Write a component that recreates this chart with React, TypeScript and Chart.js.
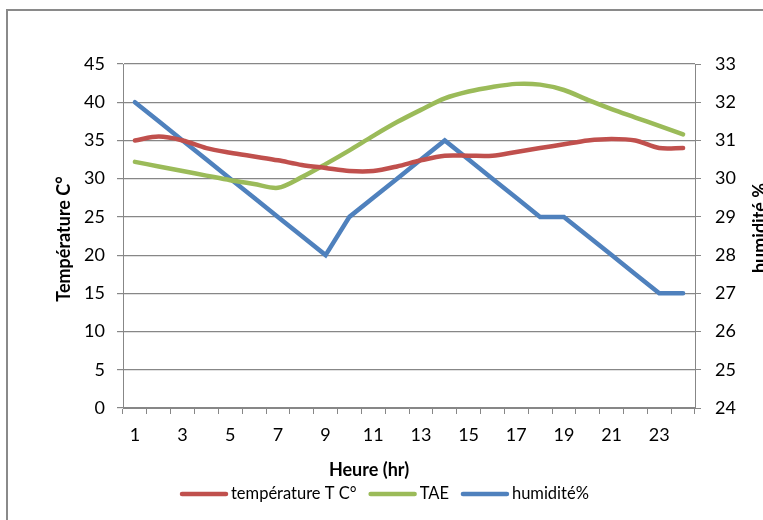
import React, { useEffect, useRef } from "react";
import { Chart, registerables } from "chart.js";

Chart.register(...registerables);

const hours = ["1","2","3","4","5","6","7","8","9","10","11","12","13","14","15","16","17","18","19","20","21","22","23","24"];
const temperature = [35, 35.5, 35, 34, 33.4, 32.9, 32.4, 31.8, 31.4, 31, 31, 31.6, 32.4, 33, 33, 33, 33.5, 34, 34.5, 35, 35.2, 35, 34, 34];
const tae = [32.2, 31.6, 31, 30.4, 29.8, 29.3, 28.8, 30.2, 31.9, 33.7, 35.6, 37.4, 39, 40.5, 41.4, 42, 42.4, 42.3, 41.6, 40.3, 39.1, 38, 36.9, 35.8];
const humidity = [32, 31.5, 31, 30.5, 30, 29.5, 29, 28.5, 28, 29, 29.5, 30, 30.5, 31, 30.5, 30, 29.5, 29, 29, 28.5, 28, 27.5, 27, 27];

const seriesNames = ["température T C°", "TAE", "humidité%"];
const colors = ["#C0504D", "#9BBB59", "#4F81BD"];
const leftTitle = "Température C°";
const rightTitle = "humidité %";
const xTitle = "Heure (hr)";

const FONT = "Lato, 'Noto Sans', sans-serif";
const GRID = "#878787";

const titlesPlugin = {
  id: "titlesLegend",
  afterDraw(chart: any) {
    const ctx = chart.ctx;
    ctx.save();
    ctx.fillStyle = "#000";
    ctx.font = `bold 18px ${FONT}`;
    ctx.textAlign = "center";
    ctx.textBaseline = "middle";
    // left title
    ctx.save();
    ctx.translate(64, 239);
    ctx.rotate(-Math.PI / 2);
    ctx.fillText(leftTitle, 0, 0);
    ctx.restore();
    // right title
    ctx.save();
    ctx.translate(760, 228);
    ctx.rotate(-Math.PI / 2);
    ctx.fillText(rightTitle, 0, 0);
    ctx.restore();
    // x title
    ctx.fillText(xTitle, 369, 470);
    // legend
    ctx.font = `16.5px ${FONT}`;
    ctx.textAlign = "left";
    let x = 180;
    const y = 494;
    chart.data.datasets.forEach((ds: any) => {
      ctx.strokeStyle = ds.borderColor;
      ctx.lineWidth = 4.5;
      ctx.lineCap = "round";
      ctx.beginPath();
      ctx.moveTo(x + 2, y);
      ctx.lineTo(x + 46, y);
      ctx.stroke();
      x += 51;
      ctx.fillText(ds.label, x, y);
      x += ctx.measureText(ds.label).width + 12;
    });
    ctx.restore();
  },
};

export default function App() {
  const ref = useRef<HTMLCanvasElement | null>(null);
  useEffect(() => {
    if (!ref.current) return;
    const tickFont = { family: FONT, size: 18 };
    const chart = new Chart(ref.current, {
      type: "line",
      data: {
        labels: hours,
        datasets: [
          { label: seriesNames[0], data: temperature, borderColor: colors[0], backgroundColor: colors[0], borderWidth: 4.5, pointRadius: 0, tension: 0.3, yAxisID: "y", borderCapStyle: "round" },
          { label: seriesNames[1], data: tae, borderColor: colors[1], backgroundColor: colors[1], borderWidth: 4.5, pointRadius: 0, tension: 0.3, yAxisID: "y", borderCapStyle: "round" },
          { label: seriesNames[2], data: humidity, borderColor: colors[2], backgroundColor: colors[2], borderWidth: 4.5, pointRadius: 0, tension: 0, yAxisID: "y1", borderCapStyle: "round" },
        ],
      },
      options: {
        responsive: false,
        animation: false,
        layout: { padding: { top: 64, left: 0, right: 0, bottom: 0 } },
        plugins: { legend: { display: false }, tooltip: { enabled: false } },
        scales: {
          x: {
            offset: true,
            grid: { display: true, drawOnChartArea: false, drawTicks: true, tickLength: 6, color: GRID, offset: true },
            border: { color: GRID, width: 1 },
            ticks: {
              autoSkip: false,
              maxRotation: 0,
              padding: 10,
              color: "#000",
              font: tickFont,
              callback: (_v: any, i: number) => (i % 2 === 0 ? hours[i] : ""),
            },
            afterFit: (s: any) => { s.height = 112; },
          },
          y: {
            position: "left",
            min: 0,
            max: 45,
            ticks: { stepSize: 5, padding: 12, color: "#000", font: tickFont },
            grid: { color: GRID, tickLength: 6, lineWidth: 1.2 },
            border: { color: GRID, width: 1 },
            afterFit: (s: any) => { s.width = 123; },
          },
          y1: {
            position: "right",
            min: 24,
            max: 33,
            ticks: { stepSize: 1, padding: 14, color: "#000", font: tickFont },
            grid: { drawOnChartArea: false, color: GRID, tickLength: 6 },
            border: { color: GRID, width: 1 },
            afterFit: (s: any) => { s.width = 68; },
          },
        },
      },
      plugins: [titlesPlugin],
    } as any);
    return () => chart.destroy();
  }, []);
  return (
    <div style={{ position: "fixed", left: 0, top: 0, width: 763, height: 520, overflow: "hidden", background: "#fff" }}>
      <div style={{ position: "absolute", left: 6, top: 9, width: 900, height: 700, borderLeft: "2px solid #8a8a8a", borderTop: "2px solid #8a8a8a" }} />
      <canvas ref={ref} width={763} height={520} style={{ position: "absolute", left: 0, top: 0, width: 763, height: 520 }} />
    </div>
  );
}
